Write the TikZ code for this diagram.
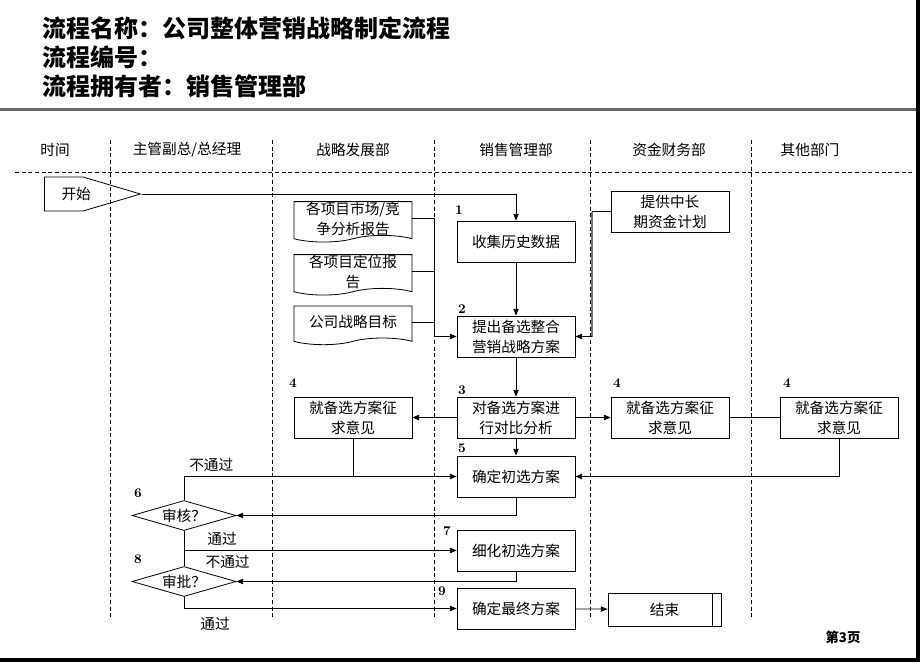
\documentclass[tikz,border=0pt]{standalone}
\usepackage{fontspec}
\newfontfamily\cjk{Noto Sans CJK SC}
\usetikzlibrary{positioning,calc,arrows.meta,shapes.geometric,shapes.symbols}

\begin{document}
\begin{tikzpicture}[x=0.75pt,y=-0.75pt,
  every node/.style={font=\cjk\fontsize{11}{15}\selectfont},
  lane/.style={draw=black, line width=0.6pt, dash pattern=on 3pt off 2pt},
  proc/.style={draw, line width=0.6pt, rectangle, minimum width=88.5pt, minimum height=30.75pt, inner sep=0pt, align=center},
  doc/.style={draw, line width=0.6pt, tape, tape bend top=none, tape bend bottom=in and out, tape bend height=5pt, minimum width=88.5pt, minimum height=29pt, inner sep=0pt, align=center},
  decide/.style={draw, line width=0.6pt, diamond, aspect=3.5, minimum width=78pt, minimum height=22.5pt, inner sep=0pt},
  num/.style={font=\rmfamily\bfseries\fontsize{10}{12}\selectfont},
  conn/.style={line width=0.6pt},
  flow/.style={line width=0.6pt, -{Triangle[length=5pt,width=4pt]}}]
\useasboundingbox (0,0) rectangle (920,662);
\fill[black!60] (0,108) rectangle (916,111);
\fill[black] (916,0) rectangle (920,662);
\fill[black] (0,658) rectangle (920,662);

\node[anchor=west, inner sep=0pt, font=\cjk\bfseries\fontsize{18}{22}\selectfont] (title) at (42,28) {流程名称：公司整体营销战略制定流程};
\node[anchor=west, inner sep=0pt, font=\cjk\bfseries\fontsize{18}{22}\selectfont] (code) at (42,57) {流程编号：};
\node[anchor=west, inner sep=0pt, font=\cjk\bfseries\fontsize{18}{22}\selectfont] (owner) at (42,86) {流程拥有者：销售管理部};

\node (hdTime) at (55,150) {时间};
\node (hdBoss) at (187,150) {主管副总/总经理};
\node (hdStrat) at (353,150) {战略发展部};
\node (hdSales) at (516,150) {销售管理部};
\node (hdFin) at (669,150) {资金财务部};
\node (hdOther) at (810,150) {其他部门};
\foreach \x in {110,272,434,590,751}
  \draw[lane] (\x,140) -- (\x,618);
\draw[lane] (15,172) -- (915,172);

\node[signal, draw, signal to=east, signal pointer angle=33, minimum width=72pt, minimum height=25.5pt, inner sep=0pt, line width=0.6pt, anchor=west] (start) at (44,194) {\makebox[0pt]{\hspace*{18.8pt}开始}};

\node[proc] (collect) at (516,241.5) {收集历史数据};
\node[proc] (propose) at (516,336.5) {提出备选整合\\营销战略方案};
\node[proc] (compare) at (516,417.5) {对备选方案进\\行对比分析};
\node[proc] (initial) at (516,476.5) {确定初选方案};
\node[proc] (refine) at (516,550.5) {细化初选方案};
\node[proc] (final) at (516,608.5) {确定最终方案};
\node[proc, minimum width=84.75pt, minimum height=24.75pt] (finish) at (664.5,609.5) {结束};
\draw[conn] ([xshift=-6.75pt]finish.north east) -- ([xshift=-6.75pt]finish.south east);

\node[doc] (marketrep) at (353,218.5) {各项目市场/竞\\争分析报告};
\node[doc] (posrep) at (353,271.5) {各项目定位报\\告};
\node[doc] (goal) at (353,322) {公司战略目标};
\node[proc] (fund) at (670,211.5) {提供中长\\期资金计划};

\node[proc] (askA) at (353,417.5) {就备选方案征\\求意见};
\node[proc] (askB) at (670,417.5) {就备选方案征\\求意见};
\node[proc] (askC) at (839,417.5) {就备选方案征\\求意见};

\node[decide] (review) at (184,515.5) {审核？};
\node[decide] (approve) at (184,581.5) {审批？};

\node[num] (n1) at (459,210) {1};
\node[num] (n2) at (462,309) {2};
\node[num] (n3) at (462,390) {3};
\node[num] (n4a) at (293,383) {4};
\node[num] (n4b) at (617,383) {4};
\node[num] (n4c) at (787,383) {4};
\node[num] (n5) at (462,448) {5};
\node[num] (n6) at (138,493) {6};
\node[num] (n7) at (447,531) {7};
\node[num] (n8) at (138,559) {8};
\node[num] (n9) at (442,591) {9};
\node[font=\cjk\bfseries\fontsize{10}{12}\selectfont] (pageno) at (843,637) {第3页};

\draw[flow] (start.east) -| (collect.north);
\draw[flow] (collect) -- (propose);
\coordinate (docbus) at (434,0);
\draw[conn] (marketrep.east) -| (docbus |- propose.west);
\draw[conn] (posrep.east) -- (posrep.east -| docbus);
\draw[conn] (goal.east) -- (goal.east -| docbus);
\draw[flow] (docbus |- propose.west) -- (propose.west);
\coordinate (fundbus) at (592,0);
\draw[conn] (fund.west) -- (fund.west -| fundbus);
\draw[line width=1.2pt, black!55] (fund.west -| fundbus) -- (fundbus |- propose.east);
\draw[flow] (fundbus |- propose.east) -- (propose.east);
\draw[flow] (propose) -- (compare);
\draw[flow] (compare) -- (askA);
\draw[flow] (compare) -- (askB);
\draw[conn] (askB) -- (askC);
\draw[flow] (compare) -- (initial);
\draw[flow] (review.north) |- node[pos=0.55, above] (fail1) {不通过} (initial.west);
\draw[conn] (askA.south) -- (askA.south |- initial.west);
\draw[flow] (askC.south) |- (initial.east);
\draw[flow] (initial.south) |- (review.east);
\draw[conn] (review.south) -- (approve.north);
\draw[flow] (review.south |- refine.west) -- node[pos=0.14, above] (pass1) {通过} node[pos=0.16, below] (fail2) {不通过} (refine.west);
\draw[flow] (refine.south) |- (approve.east);
\draw[flow] (approve.south) |- node[pos=0.557, below=3pt] (pass2) {通过} (final.west);
\draw[flow] (final) -- (finish);
\end{tikzpicture}
\end{document}
